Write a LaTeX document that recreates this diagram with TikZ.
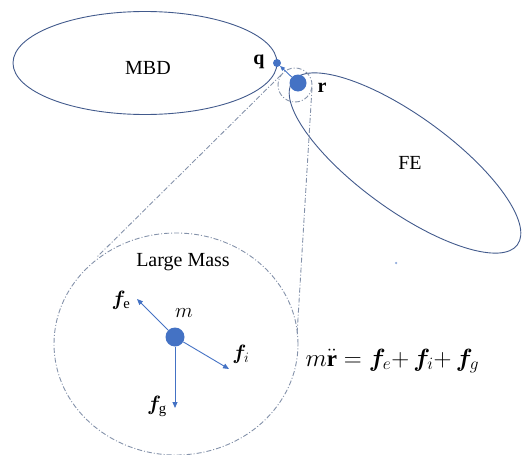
\documentclass[tikz,border=0pt]{standalone}
\usepackage{fontspec}
\setmainfont{Liberation Serif}
\usepackage{amsmath}
\usepackage{bm}
\usetikzlibrary{arrows.meta, positioning, shapes.geometric}
\definecolor{bodyblue}{RGB}{66,90,140}
\definecolor{dotblue}{RGB}{68,114,196}
\definecolor{zoomgray}{RGB}{132,146,170}

\begin{document}
\begin{tikzpicture}[x=1pt, y=-1pt, font=\rmfamily\fontsize{20}{24}\selectfont,
    body/.style={ellipse, draw=bodyblue, line width=0.9pt},
    zoomline/.style={draw=zoomgray, line width=0.9pt, dash pattern=on 5pt off 2pt on 1pt off 2pt},
    blob/.style={circle, fill=dotblue, inner sep=0pt},
    force/.style={dotblue, line width=0.9pt, -{Triangle[length=6pt, width=5pt]}},
    mathlabel/.style={font=\fontsize{21}{24}\selectfont}]
    \useasboundingbox (0,0) rectangle (522,455);

    % bodies
    \node[body, minimum width=264pt, minimum height=103pt] (mbd) at (145,63) {};
    \node (mbdlabel) at (148,68) {MBD};
    \node[body, minimum width=278pt, minimum height=94pt, rotate=-36] (fe) at (405,163) {};
    \node (felabel) at (410,163) {FE};

    % zoom circles
    \node[zoomline, circle, minimum size=34pt] (zsmall) at (295,85) {};
    \node[zoomline, ellipse, minimum width=244pt, minimum height=222pt] (zbig) at (176,344) {};
    \coordinate (tl1) at (281,75);
    \coordinate (tl2) at (97,257);
    \coordinate (tr1) at (312,88);
    \coordinate (tr2) at (297,335);
    \draw[zoomline] (tl1) -- (tl2);
    \draw[zoomline] (tr1) -- (tr2);

    % interface points
    \node[blob, minimum size=8pt] (q) at (277,63) {};
    \node[blob, minimum size=17pt] (r) at (298,83) {};
    \node (qlabel) at (259,62) {\textbf{q}};
    \node (rlabel) at (322,88) {\textbf{r}};
    \draw[force, -{Triangle[length=5pt, width=4pt]}] (r) -- (q);
    \node[blob, fill=dotblue!60, minimum size=2.5pt] (speck) at (396,263) {};

    % large mass
    \node (masslabel) at (183,262) {Large Mass};
    \node[blob, minimum size=19pt] (mass) at (175,337) {};
    \node[mathlabel] (m) at (184,313) {$m$};
    \coordinate (fetip) at (137,299);
    \coordinate (fitip) at (229,369);
    \coordinate (fgtip) at (175,408);
    \draw[force] (mass) -- (fetip);
    \draw[force] (mass) -- (fitip);
    \draw[force] (mass) -- (fgtip);
    \node[mathlabel] (felab) at (121,300) {$\bm{f}_{\mathrm{e}}$};
    \node[mathlabel] (filab) at (241,354) {$\bm{f}_i$};
    \node[mathlabel] (fglab) at (157,406) {$\bm{f}_{\mathrm{g}}$};

    % equation
    \node[anchor=west, font=\fontsize{23}{27}\selectfont] (eq) at (302,361) {$m\ddot{\mathbf{r}} = \bm{f}_e{+}\,\bm{f}_i{+}\,\bm{f}_g$};
\end{tikzpicture}
\end{document}
